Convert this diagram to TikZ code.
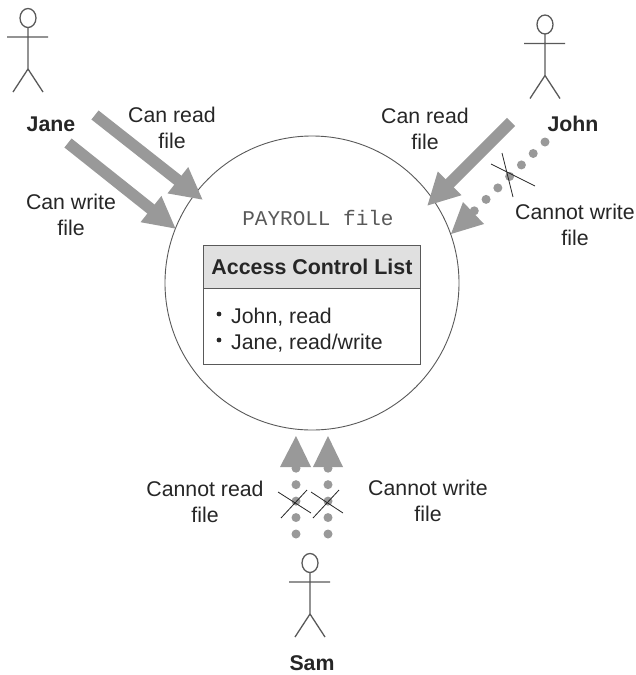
\documentclass[tikz,border=0pt]{standalone}
\usepackage{fontspec}
\setmainfont{Liberation Sans}
\newfontfamily\cmono{Liberation Mono}
\usetikzlibrary{arrows.meta}
\definecolor{arrowgray}{gray}{0.6}
\definecolor{ink}{gray}{0.15}
\definecolor{linegray}{gray}{0.35}
\definecolor{headgray}{gray}{0.88}
\tikzset{
  lbl/.style={align=center,inner sep=0pt,text=ink,font=\fontsize{21.3}{26}\selectfont},
  actorname/.style={inner sep=0pt,text=ink,font=\fontsize{21.3}{26}\selectfont\bfseries},
  yesarrow/.style={draw=arrowgray,line width=11.5pt,-{Triangle[length=32pt,width=31pt]}},
  noline/.style={draw=arrowgray,line width=9pt,line cap=round,dash pattern=on 0pt off 16.45pt},
  nohead/.style={fill=arrowgray,draw=none},
  crossline/.style={draw=ink,line width=0.8pt},
  stick/.style={draw=linegray,line width=1.3pt},
  pics/actor/.style={code={
    \draw[stick] (0,0) ellipse[x radius=8,y radius=9.5];
    \draw[stick] (0,9.5) -- (0,51) (-21,19) -- (20,19) (0,51) -- (-15,74) (0,51) -- (15,74);
  }}
}
\begin{document}
\begin{tikzpicture}[x=1pt,y=-1pt]
\useasboundingbox (0,0) rectangle (636,675);
\node[circle,draw=linegray,line width=0.9pt,minimum size=294pt,inner sep=0pt] (file) at (312,283) {};
\node[inner sep=0pt,text=linegray,font=\cmono\fontsize{21}{24}\selectfont] (title) at (318,218) {PAYROLL file};
\node[draw=linegray,fill=headgray,line width=0.9pt,minimum width=217pt,minimum height=43pt,inner sep=0pt,anchor=north west,font=\fontsize{21.4}{24}\selectfont\bfseries,text=ink] (aclhead) at (203,245) {Access Control List};
\node[draw=linegray,line width=0.9pt,minimum width=217pt,minimum height=76pt,inner sep=0pt,anchor=north west] (aclbody) at (203,288) {};
\node[lbl,anchor=base west] (e1) at (231,323) {John, read};
\node[lbl,anchor=base west] (e2) at (231,349) {Jane, read/write};
\fill[ink] (219,314) circle[radius=2.4];
\fill[ink] (219,340) circle[radius=2.4];
% actors
\pic at (28,18) {actor};
\pic at (545,24.5) {actor};
\pic at (310,563) {actor};
\node[actorname] (jane) at (51,124) {Jane};
\node[actorname] (john) at (573,124) {John};
\node[actorname] (sam) at (312,663) {Sam};
% labels
\node[lbl] (l1) at (172,128) {Can read\\file};
\node[lbl] (l2) at (71,215) {Can write\\file};
\node[lbl] (l3) at (425,129) {Can read\\file};
\node[lbl] (l4) at (575,225) {Cannot write\\file};
\node[lbl] (l5) at (205,502) {Cannot read\\file};
\node[lbl] (l6) at (428,501) {Cannot write\\file};
% allowed arrows
\coordinate (a1s) at (95,115); \coordinate (a1e) at (203,200);
\coordinate (a2s) at (68,143); \coordinate (a2e) at (176,229);
\coordinate (a3s) at (511,122); \coordinate (a3e) at (427,206);
\draw[yesarrow] (a1s) -- (a1e);
\draw[yesarrow] (a2s) -- (a2e);
\draw[yesarrow] (a3s) -- (a3e);
% John denied
\coordinate (d1s) at (545,142); \coordinate (d1e) at (470,215);
\draw[noline] (d1s) -- (d1e);
\fill[nohead] (451,234) -- (463,202) -- (484,224) -- cycle;
\draw[crossline] (502,153) -- (513,197) (491,164) -- (535,186);
% Sam denied
\coordinate (d2s) at (296,534); \coordinate (d2e) at (296,462);
\coordinate (d3s) at (328,534); \coordinate (d3e) at (328,462);
\draw[noline] (d2s) -- (d2e);
\draw[noline] (d3s) -- (d3e);
\fill[nohead] (296,436) -- (280,467) -- (311,467) -- cycle;
\fill[nohead] (328,436) -- (313,467) -- (343,467) -- cycle;
\draw[crossline] (278,492) -- (311,513) (281,518) -- (307,490);
\draw[crossline] (311,492) -- (343,513) (313,518) -- (339,490);
\end{tikzpicture}
\end{document}
